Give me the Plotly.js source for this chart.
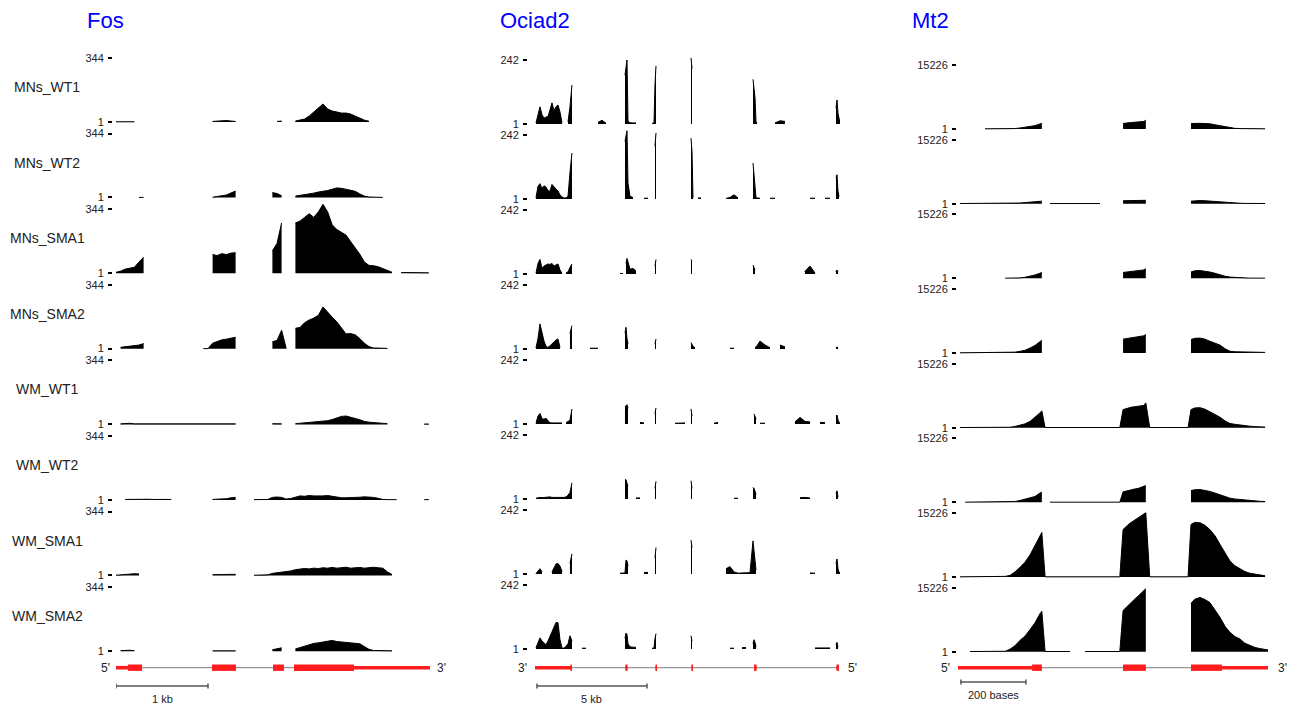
<!DOCTYPE html>
<html><head><meta charset="utf-8">
<script src="https://cdn.plot.ly/plotly-3.0.1.min.js"></script>
<style>html,body{margin:0;padding:0;background:#fff}#chart{width:1295px;height:711px}</style>
</head><body><div id="chart"></div>
<script>
const _ = null;
const SAMPLES = ['MNs_WT1','MNs_WT2','MNs_SMA1','MNs_SMA2','WM_WT1','WM_WT2','WM_SMA1','WM_SMA2'];
const GENES = ['Fos','Ociad2','Mt2'];
const YMAX = [344, 242, 15226];

// ---------------- Fos (bp from gene start) ----------------
const FOS_X = [0,50,100,150,200,250,300,350,400,450,500,550,600,650,700,750,800,850,900,950,1000,1050,1100,1150,1200,1250,1300,1350,1400,1450,1500,1550,1600,1650,1700,1750,1800,1850,1900,1950,2000,2050,2100,2150,2200,2250,2300,2350,2400,2450,2500,2550,2600,2650,2700,2750,2800,2850,2900,2950,3000,3050,3100,3150,3200,3250,3300,3350,3400];
const FOS_MNS_WT1 = [1,1,1,1,1,_,_,_,_,_, _,_,_,_,_,_,_,_,_,_, _,3,5,8,8,5,3,_,_,_, _,_,_,_,_,3,5,_,_,5, 10,16,32,54,80,97,70,59,54,48, 48,43,32,21,10,4,_,_,_,_, _,_,_,_,_,_,_,_,_];
const FOS_MNS_WT2 = [_,_,_,_,_,1,1,_,_,_, _,_,_,_,_,_,_,_,_,_, _,2,5,8,14,25,35,_,_,_, _,_,_,_,27,22,10,_,_,8, 11,16,20,24,30,33,38,45,52,50, 45,40,34,20,8,3,2,2,1,_, _,_,_,_,_,_,_,_,_];
const FOS_MNS_SMA1 = [5,11,22,27,32,60,86,_,_,_, _,_,_,_,_,_,_,_,_,_, _,100,95,105,100,108,110,_,_,_, _,_,_,_,120,160,270,_,_,270, 280,300,320,300,330,370,330,260,235,220, 205,170,135,102,60,42,40,35,25,15, 5,_,4,3,3,2,2,2,2];
const FOS_MNS_SMA2 = [_,8,10,12,14,20,28,_,_,_, _,_,_,_,_,_,_,_,_,1, 1,30,40,48,52,55,62,_,_,_, _,_,_,_,38,45,100,2,_,110, 115,140,155,165,180,225,195,170,145,110, 80,82,75,55,30,12,4,4,3,2, _,_,_,_,_,_,_,_,_];
const FOS_WM_WT1 = [_,3,5,6,3,3,4,3,4,3, 2,2,3,2,3,3,2,2,2,2, 2,2,2,2,2,2,3,_,_,_, _,_,_,_,4,4,3,_,_,4, 6,8,10,12,14,16,20,26,35,43, 45,40,32,25,16,12,10,8,6,4, _,_,_,_,_,_,_,2,2];
const FOS_WM_WT2 = [_,_,3,4,3,4,5,4,3,4, 3,3,3,_,_,_,_,_,_,_, _,3,4,5,7,12,14,_,_,_, 2,2,2,3,14,16,14,5,8,16, 22,20,24,22,20,22,24,20,15,12, 12,12,13,15,17,16,14,9,3,2, 2,2,_,_,_,_,_,2,2];
const FOS_WM_SMA1 = [2,5,8,10,10,9,_,_,_,_, _,_,_,_,_,_,_,_,_,_, _,5,5,6,5,6,7,_,_,_, 2,2,3,4,12,15,18,20,25,32, 35,38,36,40,38,42,40,44,40,42, 45,40,42,44,40,42,45,42,40,20, 6,_,_,_,_,_,_,_,_];
const FOS_WM_SMA2 = [_,3,5,5,3,_,_,_,_,_, _,_,_,_,_,_,_,_,_,_, _,2,2,2,2,2,2,_,_,_, _,_,_,_,8,12,18,_,_,12, 20,28,35,42,45,50,55,58,52,50, 48,46,44,40,25,10,4,3,3,2, 2,_,_,_,_,_,_,_,_];
const FOS_GENE = [0, 3413];
const FOS_EXONS = [[0,283],[1043,1304],[1707,1826],[1935,3413]];
const FOS_CDS = [[130,283],[1043,1304],[1707,1826],[1935,2587]];

// ---------------- Ociad2 (bp, drawn 3' -> 5') ----------------
const OCI_X = [0,91,182,273,364,455,545,636,727,818,909,1000,1091,1182,1273,1364,1455,1545,1636,
 1909,2091,2273,2455,2636,2818,3000,3182,3364,
 3818,3955,4045,4091,4136,4182,4273,4409,4545,4727,4909,5091,5273,5364,5409,5455,5500,
 6318,6545,6773,
 7000,7045,7091,7136,7227,7364,7500,7682,
 7909,8091,8273,8455,8636,8818,9000,9182,9364,9545,9727,
 9864,9909,9955,10000,10045,10182,
 10409,10636,10864,11091,11318,11545,11773,12000,12227,12455,12682,12909,13136,13364,
 13545,13636,13682,13727,13773,13818];
const OCI_MNS_WT1 = [4,30,65,35,22,26,28,53,80,50,65,72,45,5,_,_,8,65,147,
 _,_,_,_,_,6,14,3,_,
 _,_,185,220,242,10,5,4,4,_,_,_,3,3,150,220,_,
 _,_,_,
 _,250,210,_,_,_,_,_,
 _,_,_,_,_,_,_,_,_,_,_,
 169,130,100,9,4,_,
 _,_,4,12,10,_,_,_,_,_,_,_,_,_,
 _,60,91,40,20,4];
const OCI_MNS_WT2 = [5,48,58,40,50,45,32,29,55,45,38,30,16,8,4,4,10,100,174,
 _,_,_,_,_,_,_,_,_,
 _,_,218,250,258,60,10,6,_,_,3,3,_,_,200,250,_,
 _,_,_,
 _,230,180,5,_,4,4,_,
 _,_,_,_,2,6,16,4,_,_,_,
 136,100,60,5,4,3,
 _,3,3,_,_,_,_,_,_,3,3,_,3,3,
 _,80,92,30,10,_];
const OCI_MNS_SMA1 = [3,40,55,22,30,34,38,36,40,30,34,38,15,3,_,4,8,25,38,
 _,_,_,_,_,_,_,_,_,
 2,2,_,40,59,45,18,21,12,_,_,_,_,_,30,55,_,
 _,_,_,
 _,55,50,_,_,_,_,_,
 _,_,_,_,_,_,_,_,_,_,_,
 34,25,15,_,_,_,
 _,_,_,_,_,_,_,_,10,30,4,_,_,_,
 _,10,15,8,_,_];
const OCI_MNS_SMA2 = [4,40,95,60,30,10,6,12,19,28,34,38,6,_,_,_,_,60,88,
 _,_,_,3,3,3,_,_,_,
 _,_,60,82,40,20,_,_,_,_,_,_,_,_,20,38,_,
 _,_,_,
 _,25,15,10,5,_,_,_,
 _,_,_,_,_,3,3,_,_,_,_,
 _,_,5,8,12,30,
 15,5,_,15,8,_,_,_,_,_,_,_,_,_,
 _,5,8,3,_,_];
const OCI_WM_WT1 = [3,30,40,20,18,22,12,5,4,4,4,4,4,4,_,5,8,14,57,
 _,_,_,_,_,_,_,_,_,
 _,_,65,70,73,60,_,_,_,6,4,_,_,_,40,61,_,
 3,4,4,
 _,57,30,_,_,_,_,_,
 _,3,6,_,_,_,_,_,_,_,_,
 _,38,30,20,_,3,
 3,_,_,_,_,_,8,25,10,8,_,6,6,_,
 _,30,34,15,6,5];
const OCI_WM_WT2 = [3,5,6,5,6,7,6,8,6,7,6,6,7,6,6,8,14,25,61,
 _,_,_,_,_,_,_,_,_,
 _,_,73,73,60,50,_,_,4,4,_,_,_,_,40,67,_,
 _,_,_,
 _,69,40,_,_,_,_,_,
 _,_,_,_,_,_,3,3,_,_,_,
 44,40,30,15,_,_,
 _,_,_,_,_,_,_,5,6,4,_,_,_,_,
 _,20,31,8,_,_];
const OCI_WM_SMA1 = [2,12,20,8,_,_,_,_,8,25,38,40,30,10,_,_,_,40,76,
 _,_,_,_,_,_,_,_,_,
 3,3,4,53,50,30,_,_,_,_,6,6,_,_,60,100,_,
 _,_,_,
 _,128,100,_,_,_,_,_,
 _,_,_,_,20,28,8,3,4,4,5,
 125,90,50,15,_,_,
 _,_,_,_,_,_,_,_,_,4,3,_,_,_,
 _,40,57,20,6,5];
const OCI_WM_SMA2 = [5,25,42,30,22,16,30,48,70,88,100,100,35,4,3,10,20,50,30,
 _,3,3,_,_,_,_,_,_,
 _,_,40,60,55,20,8,6,6,_,_,_,3,3,40,58,_,
 _,_,_,
 _,50,30,_,_,_,_,_,
 _,_,_,_,_,3,3,_,5,6,_,
 20,35,25,10,_,_,
 _,_,_,_,_,_,_,_,_,_,4,4,4,4,
 _,15,25,8,_,_];
const OCI_GENE = [-45, 13773];
const OCI_EXONS = [[-45,1636],[4068,4159],[5432,5500],[7068,7136],[9909,10023],[13659,13773]];
const OCI_CDS = [[1568,1636],[4068,4159],[5432,5500],[7068,7136],[9909,10023],[13659,13773]];

// ---------------- Mt2 (bp from gene start) ----------------
const MT2_X = [6,22,37,52,68,83,98,114,129,145,160,175,191,206,222,237,252,258,
 268,283,298,314,329,345,360,375,391,406,422,437,452,468,483,498,
 508,517,526,535,545,554,563,572,578,
 590,622,652,683,708,
 717,729,745,760,775,791,806,822,837,852,868,883,898,914,929,945,954];
const MT2_MNS_WT1 = [_,_,_,_,_,40,40,40,40,50,60,100,250,400,600,800,1200,1350,
 _,_,_,_,_,_,_,_,_,_,_,_,_,_,_,_,
 1300,1450,1500,1550,1600,1700,1750,1800,2100,
 _,_,_,_,_,
 1300,1350,1350,1300,1250,1000,800,500,300,150,100,80,60,50,40,40,_];
const MT2_MNS_WT2 = [40,40,40,40,40,40,40,40,40,40,40,50,150,250,350,450,550,600,
 _,30,30,30,30,30,30,30,30,30,30,30,_,_,_,_,
 700,720,740,750,760,770,780,790,800,
 _,_,_,_,_,
 600,700,750,700,600,500,400,300,200,150,100,60,50,40,40,40,_];
const MT2_MNS_SMA1 = [_,_,_,_,_,_,_,_,_,40,40,50,100,250,500,800,1200,1400,
 _,_,_,_,_,_,_,_,_,_,_,_,_,_,_,_,
 1400,1500,1550,1600,1700,1800,1900,2000,2300,
 _,_,_,_,_,
 1500,1800,1850,1700,1500,1200,800,500,300,200,100,60,50,50,40,40,_];
const MT2_MNS_SMA2 = [40,40,40,40,40,40,40,40,40,40,60,200,400,650,1200,1800,2700,3030,
 _,_,_,_,_,_,_,_,_,_,_,_,_,_,_,_,
 3300,3400,3600,3700,3800,3900,4000,4100,4400,
 _,_,_,_,_,
 3200,3500,3550,3300,2800,2400,1900,1000,400,300,300,250,250,250,200,150,_];
const MT2_WM_WT1 = [40,40,40,40,40,40,40,40,40,40,100,300,600,900,1500,2400,3500,4000,
 40,40,40,40,40,40,40,40,40,40,40,40,40,40,40,40,
 4300,4500,4800,4900,5000,5100,5200,5300,5900,
 40,40,40,40,40,
 4300,4700,4750,4400,3800,3200,2500,1600,1000,800,600,500,350,250,200,150,_];
const MT2_WM_WT2 = [_,40,40,40,40,40,40,40,40,40,60,200,450,750,1000,1400,2200,2400,
 _,40,40,40,40,40,40,40,40,40,40,40,40,40,40,40,
 2500,2700,2900,3000,3200,3300,3500,3700,4000,
 _,_,_,_,_,
 2800,3000,3050,2900,2600,2200,1800,1300,1000,800,650,550,450,350,250,200,_];
const MT2_WM_SMA1 = [40,40,40,40,40,40,40,40,40,150,380,1200,2300,3500,5300,7600,9800,10600,
 40,40,40,40,40,40,40,40,40,40,40,40,40,40,40,40,
 11300,12000,12600,13100,13600,14100,14500,15000,15300,
 40,40,40,40,40,
 12500,13000,12900,12300,11300,9800,7800,5800,3800,2700,1900,1300,900,700,500,300,_];
const MT2_WM_SMA2 = [_,_,40,40,40,40,40,40,40,100,600,1400,2700,3700,5300,6900,9000,9600,
 40,40,40,40,40,40,_,_,40,40,40,40,40,40,40,40,
 9800,10500,11300,12000,12600,13200,13800,14400,15000,
 _,_,_,_,_,
 11500,12500,12900,12400,11700,10000,8200,6000,4600,3600,3000,2000,1500,1000,750,600,400];
const MT2_GENE = [0, 954];
const MT2_EXONS = [[0,258],[508,578],[717,954]];
const MT2_CDS = [[228,258],[508,578],[717,812]];

// ---------------- assembly ----------------
const COLUMNS = [
  {name:GENES[0], x:FOS_X, ymax:YMAX[0], rows:[FOS_MNS_WT1,FOS_MNS_WT2,FOS_MNS_SMA1,FOS_MNS_SMA2,FOS_WM_WT1,FOS_WM_WT2,FOS_WM_SMA1,FOS_WM_SMA2],
   gene:FOS_GENE, exons:FOS_EXONS, cds:FOS_CDS, ends:["5'","3'"], bar:[0,1000], barText:'1 kb'},
  {name:GENES[1], x:OCI_X, ymax:YMAX[1], rows:[OCI_MNS_WT1,OCI_MNS_WT2,OCI_MNS_SMA1,OCI_MNS_SMA2,OCI_WM_WT1,OCI_WM_WT2,OCI_WM_SMA1,OCI_WM_SMA2],
   gene:OCI_GENE, exons:OCI_EXONS, cds:OCI_CDS, ends:["3'","5'"], bar:[45,5045], barText:'5 kb'},
  {name:GENES[2], x:MT2_X, ymax:YMAX[2], rows:[MT2_MNS_WT1,MT2_MNS_WT2,MT2_MNS_SMA1,MT2_MNS_SMA2,MT2_WM_WT1,MT2_WM_WT2,MT2_WM_SMA1,MT2_WM_SMA2],
   gene:MT2_GENE, exons:MT2_EXONS, cds:MT2_CDS, ends:["5'","3'"], bar:[9,209], barText:'200 bases'}
];

const W = 1295, H = 711;
const FONT = 'Liberation Sans, Arial, sans-serif';
const px = p => p / W;
const py = p => 1 - p / H;
const GEOM = [
  {dom:[116,430], range:[0,3413], axis:112, base0:122, step:75.6, title:85, endL:112, endR:435, barY:686, barTextY:699},
  {dom:[535,840], range:[-45,13818], axis:527, base0:124, step:75.0, title:498, endL:529, endR:846, barY:686, barTextY:699},
  {dom:[958,1268], range:[0,954], axis:956, base0:129, step:74.67, title:910, endL:952, endR:1276, barY:682, barTextY:695}
];
const TRACK_H = 64;
const GENE_Y = 667.7;
const RED = '#ff1c1c';

const traces = [];
const layout = {
  width:W, height:H, margin:{l:0,r:0,t:0,b:0},
  paper_bgcolor:'#ffffff', plot_bgcolor:'rgba(0,0,0,0)',
  showlegend:false, font:{family:FONT, color:'#222'},
  shapes:[], annotations:[], hovermode:false
};

COLUMNS.forEach((col, c) => {
  const g = GEOM[c];
  const xName = c === 0 ? 'x' : 'x' + (c + 1);
  layout[c === 0 ? 'xaxis' : 'xaxis' + (c + 1)] = {
    domain:[px(g.dom[0]), px(g.dom[1])], range:g.range, visible:false, fixedrange:true,
    anchor:'y' + (c * 8 + 8)
  };
  col.rows.forEach((vals, r) => {
    const n = c * 8 + r + 1;
    const yName = n === 1 ? 'y' : 'y' + n;
    const base = g.base0 + r * g.step;
    const M = col.ymax;
    layout[n === 1 ? 'yaxis' : 'yaxis' + n] = {
      domain:[py(base + 0.02 * TRACK_H), py(base - 1.08 * TRACK_H)],
      range:[-0.02 * M, 1.08 * M], anchor:'free', position:px(g.axis), side:'left',
      showgrid:false, zeroline:false, showline:false, fixedrange:true,
      ticks:'outside', ticklen:4, tickwidth:2, tickcolor:'#000',
      tickvals:[1, M], ticktext:['1', String(M)], ticklabelstandoff:2,
      tickfont:{size:11, color:'#222', family:FONT}
    };
    let sx = [], sy = [];
    const flush = () => {
      if (sx.length > 1) {
        traces.push({type:'scatter', mode:'lines', x:sx, y:sy, xaxis:xName, yaxis:yName,
          fill:'tozeroy', fillcolor:'#000', line:{color:'#000', width:1},
          hoverinfo:'skip', showlegend:false});
      }
      sx = []; sy = [];
    };
    vals.forEach((v, i) => { if (v === null) flush(); else { sx.push(col.x[i]); sy.push(v); } });
    flush();
  });

  // gene title
  layout.annotations.push({xref:'paper', yref:'paper', x:px(g.title), y:py(20), xanchor:'left', yanchor:'middle',
    text:col.name, showarrow:false, font:{size:22, color:'#0000ff', family:FONT}});

  // gene model
  layout.shapes.push({type:'line', xref:xName, yref:'paper', x0:col.gene[0], x1:col.gene[1],
    y0:py(GENE_Y), y1:py(GENE_Y), line:{color:'#999', width:1.3}, layer:'above'});
  col.exons.forEach(e => layout.shapes.push({type:'rect', xref:xName, yref:'paper', x0:e[0], x1:e[1],
    y0:py(GENE_Y + 1.8), y1:py(GENE_Y - 1.8), fillcolor:RED, line:{width:0}, layer:'above'}));
  col.cds.forEach(e => layout.shapes.push({type:'rect', xref:xName, yref:'paper', x0:e[0], x1:e[1],
    y0:py(GENE_Y + 3.2), y1:py(GENE_Y - 3.2), fillcolor:RED, line:{width:0}, layer:'above'}));
  layout.annotations.push({xref:'paper', yref:'paper', x:px(g.endL), y:py(GENE_Y), xanchor:'right', yanchor:'middle',
    text:col.ends[0], showarrow:false, font:{size:12, color:'#222'}});
  layout.annotations.push({xref:'paper', yref:'paper', x:px(g.endR), y:py(GENE_Y), xanchor:'left', yanchor:'middle',
    text:col.ends[1], showarrow:false, font:{size:12, color:'#222'}});

  // scale bar
  const sb = {color:'#555', width:1.5};
  layout.shapes.push({type:'line', xref:xName, yref:'paper', x0:col.bar[0], x1:col.bar[1], y0:py(g.barY), y1:py(g.barY), line:sb});
  col.bar.forEach(b => layout.shapes.push({type:'line', xref:xName, yref:'paper', x0:b, x1:b,
    y0:py(g.barY - 2.5), y1:py(g.barY + 2.5), line:sb}));
  layout.annotations.push({xref:xName, yref:'paper', x:(col.bar[0] + col.bar[1]) / 2, y:py(g.barTextY),
    xanchor:'center', yanchor:'middle', text:col.barText, showarrow:false, font:{size:11, color:'#222'}});
});

// sample labels (left column)
SAMPLES.forEach((s, r) => {
  const base = GEOM[0].base0 + r * GEOM[0].step;
  layout.annotations.push({xref:'paper', yref:'paper', x:px(47), y:py(base - 35), xanchor:'center', yanchor:'middle',
    text:s, showarrow:false, font:{size:14, color:'#222'}});
});

Plotly.newPlot('chart', traces, layout, {displayModeBar:false, staticPlot:true});
</script>
</body></html>
